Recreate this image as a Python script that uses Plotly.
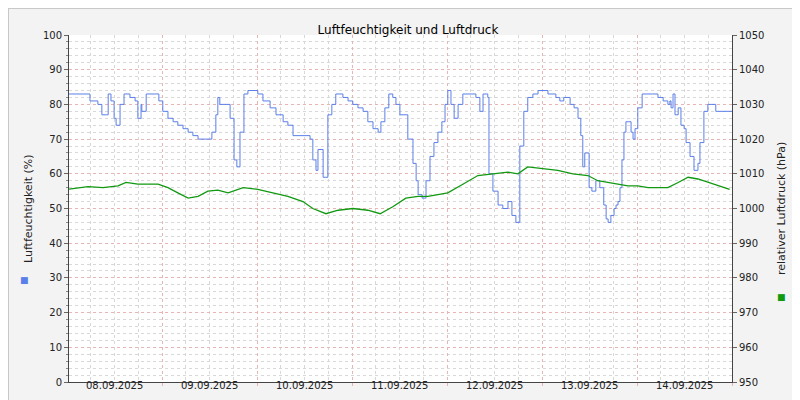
import plotly.graph_objects as go
import pandas as pd

start = pd.Timestamp("2025-09-08 00:00")
hum_h = [0.5,5.3,5.8,7.8,8.8,9.9,10.4,11.1,11.9,12.4,13.4,14.4,15.9,17.2,17.9,18.7,18.9,20.0,22.0,23.2,24.2,25.5,26.8,28.0,29.3,30.6,31.8,33.1,35.6,36.6,37.6,38.1,38.6,40.2,41.2,42.2,42.9,43.7,44.7,45.7,48.2,49.5,51.3,52.8,54.6,55.8,57.1,58.6,61.4,62.1,62.9,63.4,64.7,65.4,65.9,66.9,67.9,69.7,71.0,72.2,73.5,74.8,76.0,77.3,78.6,79.3,80.3,81.3,82.3,83.1,84.1,86.1,87.4,88.2,88.7,89.7,90.7,91.7,92.7,93.7,94.7,95.5,96.2,97.0,97.8,98.8,100.0,101.3,103.3,104.3,105.1,106.3,106.6,107.6,108.9,110.1,111.4,112.4,113.4,114.4,115.4,116.4,117.7,119.0,121.5,122.8,123.5,124.5,125.5,127.1,128.1,129.1,129.8,130.3,130.8,131.4,131.9,132.6,133.6,134.6,135.6,136.2,136.7,137.4,138.2,138.7,139.2,139.7,140.2,140.7,141.2,142.0,142.5,143.0,143.5,144.2,145.3,148.0,149.3,150.6,151.8,152.3,152.6,153.1,153.6,154.4,155.1,155.9,156.4,157.4,158.4,159.4,159.9,160.9,161.9,162.9,163.9,164.4,168.0]
hum_v = [83,83,81,80,77,77,83,81,76,74,80,83,82,81,76,80,78,83,83,81,78,76,75,74,73,72,71,70,70,72,77,82,80,80,76,64,62,72,83,84,83,81,79,77,75,74,71,71,70,64,61,67,59,59,77,80,83,82,81,80,79,78,75,73,72,75,79,83,82,80,77,70,63,58,54,53,58,65,69,72,75,80,84,80,76,80,83,83,82,78,83,82,60,55,51,50,52,48,46,68,78,82,83,84,83,83,82,81,82,80,79,76,71,62,66,66,56,55,58,56,51,47,46,48,50,51,52,56,64,72,75,75,72,70,73,79,83,83,82,81,80,81,79,83,77,79,74,73,69,65,61,63,69,78,80,80,78,78,78]
prs_h = [0.5,5.3,9.1,12.9,14.9,17.9,23.0,25.5,28.0,30.6,33.1,35.6,38.1,40.7,44.5,48.2,52.0,55.8,59.6,62.1,65.4,68.5,72.2,76.0,79.1,82.3,85.6,88.7,91.2,96.2,100.0,103.8,107.6,111.4,113.9,116.4,120.2,124.0,127.8,131.6,134.1,139.2,141.7,144.2,146.8,149.3,151.8,154.4,156.9,159.4,161.9,164.4,167.4]
prs_v = [1005.6,1006.3,1006.0,1006.5,1007.5,1007.0,1007.0,1006.0,1004.5,1003.0,1003.5,1005.0,1005.3,1004.5,1006.0,1005.5,1004.5,1003.5,1002.0,1000.0,998.5,999.5,1000.0,999.5,998.5,1000.5,1003.0,1003.5,1003.5,1004.5,1007.0,1009.5,1010.0,1010.5,1010.0,1012.0,1011.5,1011.0,1010.0,1009.5,1008.0,1007.0,1006.5,1006.5,1006.0,1006.0,1006.0,1007.5,1009.0,1008.5,1007.5,1006.5,1005.5]
day_labels = ["08.09.2025","09.09.2025","10.09.2025","11.09.2025","12.09.2025","13.09.2025","14.09.2025"]

T = lambda hs: [start + pd.Timedelta(hours=h) for h in hs]
F = dict(family="DejaVu Sans", size=10, color="#222")
w, h = 800-61-76, 400-27-26

fig = go.Figure()
fig.add_trace(go.Scatter(x=T(hum_h), y=hum_v, mode="lines", line=dict(color="#5b7fe8", width=1, shape="hv"), showlegend=False))
fig.add_trace(go.Scatter(x=T(prs_h), y=prs_v, mode="lines", yaxis="y2", line=dict(color="#119911", width=1.3, shape="linear"), showlegend=False))

mid = T([24*i for i in range(8)])
fig.update_layout(
    width=800, height=400, margin=dict(l=61, r=76, t=27, b=26, autoexpand=False),
    paper_bgcolor="#f3f3f3", plot_bgcolor="#ffffff", font=F,
    title=dict(text="Luftfeuchtigkeit und Luftdruck", x=0.5, xanchor="center", y=0.955, font=dict(family="DejaVu Sans", size=12, color="#000")),
    xaxis=dict(range=[start + pd.Timedelta(hours=0.5), start + pd.Timedelta(hours=168)], tickvals=mid, ticktext=[""]*8,
               showgrid=True, gridcolor="#e8b4b4", griddash="dot", gridwidth=1,
               minor=dict(dtick=6*3600*1000, showgrid=True, gridcolor="#d8d8d8", griddash="dot", ticks=""),
               ticks="outside", ticklen=3, tickcolor="#e8b4b4",
               showline=True, linecolor="#444", zeroline=False),
    yaxis=dict(range=[0, 100], dtick=10, showgrid=True, gridcolor="#e8b4b4", griddash="dot",
               minor=dict(dtick=2, showgrid=True, gridcolor="#d8d8d8", griddash="dot", ticks="outside", ticklen=2, tickcolor="#888"),
               ticks="outside", ticklen=4, tickcolor="#666", showline=True, linecolor="#444", zeroline=False, fixedrange=True),
    yaxis2=dict(range=[950, 1050], dtick=10, overlaying="y", side="right", showgrid=False,
                ticks="outside", ticklen=4, tickcolor="#666", showline=True, linecolor="#444", zeroline=False),
)
for i, lab in enumerate(day_labels):
    fig.add_annotation(x=start + pd.Timedelta(hours=24*i+12), y=0, xref="x", yref="paper", yshift=-11,
                       text=lab, showarrow=False, font=F)
fig.add_annotation(x=(12-61)/w, y=0.5, xref="paper", yref="paper", text="Luftfeuchtigkeit (%)", textangle=-90,
                   showarrow=False, font=dict(family="DejaVu Sans", size=11, color="#222"))
fig.add_annotation(x=(782-61)/w, y=0.5, xref="paper", yref="paper", text="relativer Luftdruck (hPa)", textangle=-90,
                   showarrow=False, font=dict(family="DejaVu Sans", size=11, color="#222"))
fig.add_annotation(x=(10-61)/w, y=(374-279)/h, xref="paper", yref="paper", text="■", showarrow=False, font=dict(size=9, color="#5b7fe8"))
fig.add_annotation(x=(780-61)/w, y=(374-296)/h, xref="paper", yref="paper", text="■", showarrow=False, font=dict(size=9, color="#119911"))
fig.add_annotation(x=(793-61)/w, y=(374-6)/h, xref="paper", yref="paper", xanchor="center", yanchor="top", text="RRDTOOL / TOBI OETIKER",
                   textangle=90, showarrow=False, font=dict(family="DejaVu Sans", size=7, color="#b0b0b0"))
fig.add_shape(type="rect", xref="paper", yref="paper", x0=-61/w, x1=(800-61)/w, y0=-26/h, y1=(400-26)/h,
              line=dict(color="#c8c8c8", width=2))
fig.write_html("out.html")
